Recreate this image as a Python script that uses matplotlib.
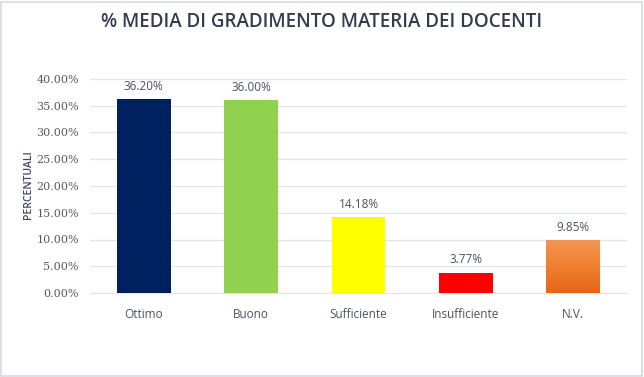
import matplotlib
matplotlib.use("Agg")
import matplotlib.pyplot as plt
import numpy as np
from matplotlib.patches import Rectangle
from matplotlib.colors import LinearSegmentedColormap

categories = ["Ottimo", "Buono", "Sufficiente", "Insufficiente", "N.V."]
values = [36.20, 36.00, 14.18, 3.77, 9.85]
colors = ["#002060", "#92D050", "#FFFF00", "#FF0000", "#F07A2A"]
yticks = [0, 5, 10, 15, 20, 25, 30, 35, 40]

W, H = 644, 377
fig = plt.figure(figsize=(W/100, H/100), dpi=100)
fig.patch.set_facecolor("white")
fig.add_artist(Rectangle((0.002, 0.003), 0.995, 0.993, transform=fig.transFigure,
                         fill=False, edgecolor="#d5d9df", linewidth=1.2))

ax = fig.add_axes([90/W, 1-293/H, (627-90)/W, (293-79)/H])
x = np.arange(len(categories))
bars = ax.bar(x, values, width=0.5, color=colors, zorder=3)

# gradient on last bar
b = bars[-1]
cmap = LinearSegmentedColormap.from_list("o", ["#E5641A", "#F0802E", "#F29555"])
grad = np.linspace(0, 1, 100).reshape(-1, 1)
im = ax.imshow(grad, cmap=cmap, origin="lower", aspect="auto",
               extent=[b.get_x(), b.get_x()+b.get_width(), 0, b.get_height()], zorder=4)
im.set_clip_path(b)

ax.set_xlim(-0.5, len(categories)-0.5)
ax.set_ylim(0, 40)
ax.set_yticks(yticks)
ax.set_yticklabels([f"{v:.2f}%" for v in yticks], family="DejaVu Serif", fontsize=8, color="#595959")
ax.set_xticks(x)
ax.set_xticklabels(categories, fontsize=8.5, color="#4a5260", family="Open Sans")
ax.tick_params(axis="both", length=0)
ax.tick_params(axis="x", pad=11)
ax.tick_params(axis="y", pad=8)
ax.grid(axis="y", color="#e2e6ec", linewidth=1, zorder=0)
for s in ["top", "right", "left"]:
    ax.spines[s].set_visible(False)
ax.spines["bottom"].set_color("#e2e6ec")

for xi, v in zip(x, values):
    ax.text(xi, v + 1.2, f"{v:.2f}%", ha="center", va="bottom", fontsize=8.5,
            color="#4a5260", family="Open Sans")

fig.text(0.5, 1-22/H, "% MEDIA DI GRADIMENTO MATERIA DEI DOCENTI", ha="center", va="center",
         fontsize=13.5, color="#333d4f", family="Open Sans", fontweight="semibold")
fig.text(28/W, 1-185/H, "PERCENTUALI", rotation=90, ha="center", va="center",
         fontsize=7.5, color="#3f4a5c", family="Open Sans", fontweight="semibold")

fig.savefig("out.png", dpi=100, facecolor="white")
